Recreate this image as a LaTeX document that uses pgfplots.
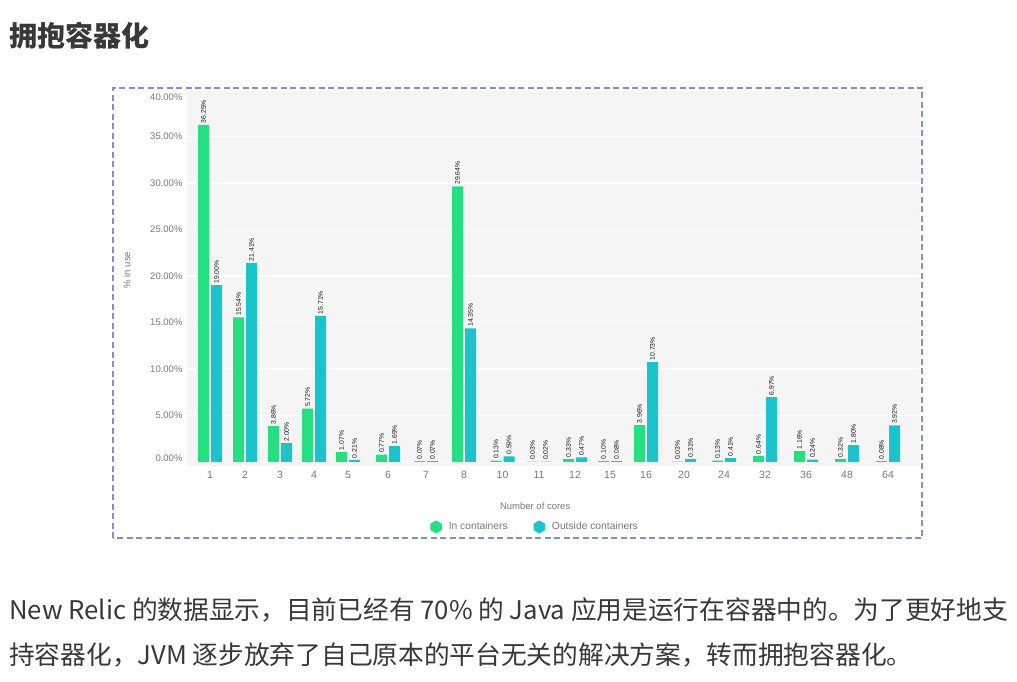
\documentclass[border=0pt]{standalone}
\usepackage{fontspec}
\setmainfont{Liberation Sans}
\newfontfamily\cjk{Noto Sans CJK SC}
\usepackage{pgfplots}
\usepackage{pgfplotstable}
\pgfplotsset{compat=1.18}
\usetikzlibrary{shapes.geometric}

\definecolor{ingreen}{HTML}{26DF80}
\definecolor{outcyan}{HTML}{1BC3CD}
\definecolor{frameblue}{HTML}{8090CF}
\definecolor{ticktxt}{HTML}{777777}
\definecolor{bodytxt}{HTML}{383838}

% x = horizontal place of each core count as measured on the chart
\pgfplotstableread{
x in out
0 36.25 19.00
35 15.54 21.41
70 3.86 2.00
104 5.72 15.71
138 1.07 0.21
178 0.77 1.69
216 0.07 0.07
254 29.64 14.35
292.5 0.13 0.59
329 0.03 0.02
365 0.33 0.47
400 0.10 0.08
436 3.96 10.73
474 0.03 0.31
514 0.13 0.41
555 0.64 6.97
596 1.16 0.24
637 0.32 1.80
678 0.08 3.92
}\cores

\begin{document}
\begin{tikzpicture}
\path[use as bounding box, fill=white] (0,0) rectangle (1017pt,681pt);

% heading and paragraph of the page
\node[anchor=west, inner sep=0pt, text=bodytxt, font=\cjk\bfseries\fontsize{28}{32}\selectfont] at (9pt,645pt) {拥抱容器化};
\node[anchor=west, inner sep=0pt, text=bodytxt, font=\cjk\fontsize{25.7}{30}\selectfont] at (9pt,71pt) {New Relic 的数据显示，目前已经有 70\% 的 Java 应用是运行在容器中的。为了更好地支};
\node[anchor=west, inner sep=0pt, text=bodytxt, font=\cjk\fontsize{25.7}{30}\selectfont] at (9pt,26pt) {持容器化，JVM 逐步放弃了自己原本的平台无关的解决方案，转而拥抱容器化。};

% dashed frame round the chart
\draw[frameblue, line width=1.4pt, dash pattern=on 6pt off 3.5pt] (113pt,143pt) rectangle (922pt,593pt);

\begin{axis}[
  at={(187pt,215pt)}, anchor=south west,
  width=733pt, height=376pt, scale only axis,
  ybar=2pt, bar width=11pt,
  xmin=-23, xmax=710,
  ymin=-0.45, ymax=40,
  axis background/.style={fill=black!4},
  axis line style={draw=none},
  major tick length=0pt,
  ymajorgrids, grid style={white, line width=1.3pt},
  xtick={0,35,70,104,138,178,216,254,292.5,329,365,400,436,474,514,555,596,637,678},
  xticklabels={1,2,3,4,5,6,7,8,10,11,12,15,16,20,24,32,36,48,64},
  ytick={0,5,...,40},
  yticklabels={\smash{0.00\%},5.00\%,10.00\%,15.00\%,20.00\%,25.00\%,30.00\%,35.00\%,\smash{\raisebox{-10.5pt}{40.00\%}}},
  /pgf/number format/assume math mode=true,
  tick label style={text=ticktxt},
  yticklabel style={font=\fontsize{9.5}{11}\selectfont, xshift=-1pt},
  xticklabel style={font=\fontsize{10.5}{12}\selectfont, yshift=-2pt},
  xlabel={Number of cores},
  ylabel={\% in use},
  label style={text=ticktxt, font=\fontsize{9.5}{11}\selectfont},
  xlabel style={at={(axis description cs:0.475,-0.106)}, anchor=center},
  ylabel style={at={(axis description cs:-0.082,0.521)}, anchor=center},
  point meta=explicit symbolic,
  nodes near coords={\pgfplotspointmeta\%},
  every node near coord/.append style={rotate=90, anchor=west, inner sep=1.5pt,
    text=black!90, font=\fontsize{6.8}{7}\selectfont},
  legend columns=2,
  legend style={at={(0.475,-0.162)}, anchor=center, draw=none, fill=none,
    font=\fontsize{10.3}{12}\selectfont, text=ticktxt,
    /tikz/every odd column/.append style={column sep=5pt},
    /tikz/every even column/.append style={column sep=24pt}},
  legend cell align=left,
]
\addplot[fill=ingreen, draw=none,
  legend image code/.code={\node[regular polygon, regular polygon sides=6, shape border rotate=30,
    fill=ingreen, inner sep=0pt, minimum size=13pt] at (0.2cm,0pt) {};}]
  table[x=x, y=in, meta=in] {\cores};
\addlegendentry{In containers}
\addplot[fill=outcyan, draw=none,
  legend image code/.code={\node[regular polygon, regular polygon sides=6, shape border rotate=30,
    fill=outcyan, inner sep=0pt, minimum size=13pt] at (0.2cm,0pt) {};}]
  table[x=x, y=out, meta=out] {\cores};
\addlegendentry{Outside containers}
\end{axis}
\end{tikzpicture}
\end{document}
